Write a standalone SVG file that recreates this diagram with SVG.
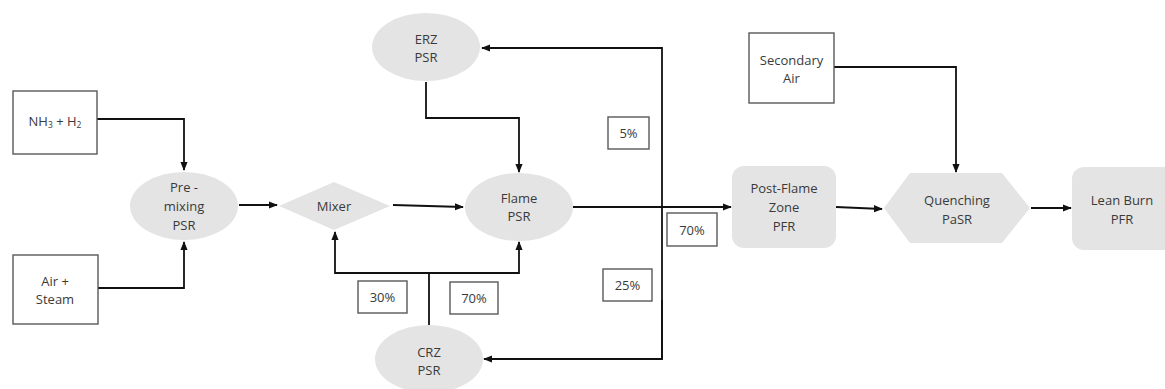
<svg xmlns="http://www.w3.org/2000/svg" width="1165" height="389" viewBox="0 0 1165 389">
<style>
.box{fill:#ffffff;stroke:#595959;stroke-width:1.4}
.node{fill:#e4e4e4;stroke:none}
.t{font-family:"Open Sans","Liberation Sans",sans-serif;font-size:13px;fill:#3a3a3a;text-anchor:middle;dominant-baseline:central}
.c{fill:none;stroke:#111111;stroke-width:1.8}
.a{marker-end:url(#ah)}
</style>
<defs>
<marker id="ah" viewBox="0 0 10 10" refX="9" refY="5" markerWidth="5" markerHeight="5" orient="auto" markerUnits="strokeWidth">
<path d="M0,1 L10,5 L0,9 z" fill="#111111"/>
</marker>
</defs>
<rect x="0" y="0" width="1165" height="389" fill="#ffffff"/>

<g id="connectors">
<polyline class="c a" points="97,119 184,119 184,170"/>
<polyline class="c a" points="98,288 184,288 184,242"/>
<line class="c a" x1="239" y1="205" x2="277" y2="205"/>
<line class="c a" x1="393" y1="205" x2="463" y2="207"/>
<polyline class="c a" points="426,82 426,118 519,118 519,172"/>
<line class="c a" x1="573" y1="207" x2="731" y2="207"/>
<polyline class="c a" points="662,359 662,48 482,48"/>
<polyline class="c a" points="662,300 662,359 484,359"/>
<line class="c" x1="429" y1="325" x2="429" y2="273"/>
<polyline class="c a" points="429,273 335,273 335,232"/>
<polyline class="c a" points="429,273 519,273 519,242"/>
<line class="c a" x1="836" y1="207" x2="882" y2="209"/>
<polyline class="c a" points="834,67 956,67 956,172"/>
<line class="c a" x1="1031" y1="208" x2="1071" y2="208"/>
</g>

<g id="nh3-h2">
<rect class="box" x="13" y="91" width="84" height="63"/>
<text class="t" x="55" y="121">NH<tspan font-size="8.5" dy="3">3</tspan><tspan dy="-3"> + H</tspan><tspan font-size="8.5" dy="3">2</tspan></text>
</g>
<g id="air-steam">
<rect class="box" x="13" y="255" width="85" height="69"/>
<text class="t" x="55" y="281">Air +</text>
<text class="t" x="55" y="299">Steam</text>
</g>
<g id="premixing">
<ellipse class="node" cx="184" cy="206" rx="54" ry="34"/>
<text class="t" x="184" y="187">Pre -</text>
<text class="t" x="184" y="206">mixing</text>
<text class="t" x="184" y="225">PSR</text>
</g>
<g id="mixer">
<polygon class="node" points="279,206 334,182 390,206 334,230"/>
<text class="t" x="334" y="206">Mixer</text>
</g>
<g id="erz">
<ellipse class="node" cx="426" cy="47" rx="54" ry="34"/>
<text class="t" x="426" y="39">ERZ</text>
<text class="t" x="426" y="57">PSR</text>
</g>
<g id="flame">
<ellipse class="node" cx="519" cy="207" rx="54" ry="34"/>
<text class="t" x="519" y="198">Flame</text>
<text class="t" x="519" y="216">PSR</text>
</g>
<g id="crz">
<ellipse class="node" cx="429" cy="359" rx="54" ry="34"/>
<text class="t" x="429" y="352">CRZ</text>
<text class="t" x="429" y="370">PSR</text>
</g>
<g id="pct-5">
<rect class="box" x="608" y="117" width="41" height="32"/>
<text class="t" x="628.5" y="133">5%</text>
</g>
<g id="pct-70-right">
<rect class="box" x="667" y="213" width="50" height="33"/>
<text class="t" x="692" y="230">70%</text>
</g>
<g id="pct-25">
<rect class="box" x="603" y="269" width="49" height="32"/>
<text class="t" x="627.5" y="285">25%</text>
</g>
<g id="pct-30">
<rect class="box" x="358" y="281" width="49" height="32"/>
<text class="t" x="382.5" y="297">30%</text>
</g>
<g id="pct-70-lower">
<rect class="box" x="450" y="282" width="48" height="32"/>
<text class="t" x="474" y="298">70%</text>
</g>
<g id="post-flame">
<rect class="node" x="732" y="166" width="104" height="82" rx="12"/>
<text class="t" x="784" y="188">Post-Flame</text>
<text class="t" x="784" y="207">Zone</text>
<text class="t" x="784" y="226">PFR</text>
</g>
<g id="secondary-air">
<rect class="box" x="749" y="33" width="85" height="70"/>
<text class="t" x="791.5" y="60">Secondary</text>
<text class="t" x="791.5" y="78">Air</text>
</g>
<g id="quenching">
<polygon class="node" points="884,208 910,173 1002,173 1030,208 1002,243 910,243"/>
<text class="t" x="957" y="200">Quenching</text>
<text class="t" x="957" y="219">PaSR</text>
</g>
<g id="lean-burn">
<rect class="node" x="1072" y="167" width="104" height="83" rx="12"/>
<text class="t" x="1122" y="200">Lean Burn</text>
<text class="t" x="1122" y="219">PFR</text>
</g>
</svg>
